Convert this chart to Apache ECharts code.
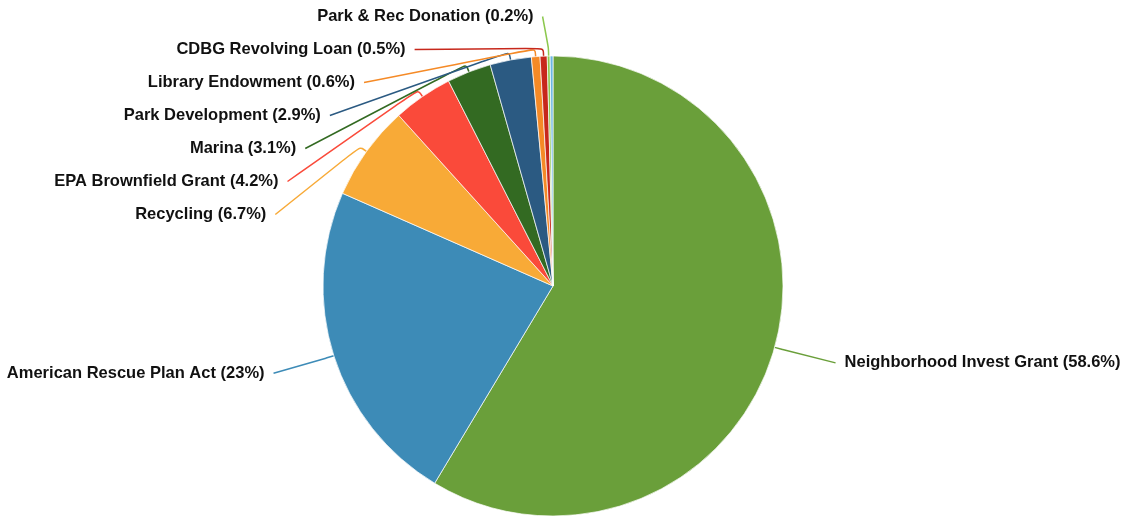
<!DOCTYPE html>
<html>
<head>
<meta charset="utf-8">
<script src="https://cdn.jsdelivr.net/npm/echarts@6/dist/echarts.min.js"></script>
<style>
  html, body { margin: 0; padding: 0; background: #fff; }
  #chart { width: 1124px; height: 516px; }
</style>
</head>
<body>
<div id="chart"></div>
<script>
// Funding sources, share of total (%)
const sources = [
  'Neighborhood Invest Grant',
  'American Rescue Plan Act',
  'Recycling',
  'EPA Brownfield Grant',
  'Marina',
  'Park Development',
  'Library Endowment',
  'CDBG Revolving Loan',
  'Park & Rec Donation',
  'Other'
];
const shares = [58.6, 23, 6.7, 4.2, 3.1, 2.9, 0.6, 0.5, 0.2, 0.2];
const colors = ['#6a9f3a', '#3d8bb7', '#f8aa37', '#fa4a3a', '#336a22', '#2b5a82', '#f58a26', '#c7281c', '#8cc84e', '#6cb6e2'];
const hiddenLabels = ['Other'];

const CENTER = [553, 286];
const RADIUS = 230;
const HOOK = 8; // short radial stub before the connector bends toward its label

const data = sources.map((name, i) => ({
  name,
  value: shares[i],
  itemStyle: { color: colors[i] },
  label: { show: hiddenLabels.indexOf(name) < 0 },
  labelLine: { show: hiddenLabels.indexOf(name) < 0 }
}));

const chart = echarts.init(document.getElementById('chart'), null, { renderer: 'canvas' });
chart.setOption({
  animation: false,
  backgroundColor: '#ffffff',
  series: [{
    type: 'pie',
    center: CENTER,
    radius: RADIUS,
    startAngle: 90,
    clockwise: true,
    avoidLabelOverlap: true,
    itemStyle: { borderColor: '#ffffff', borderWidth: 0.7 },
    label: {
      show: true,
      formatter: p => `${p.name} (${p.value}%)`,
      fontFamily: 'Liberation Sans, Arial, sans-serif',
      fontWeight: 'bold',
      fontSize: 16.5,
      lineHeight: 15,
      padding: [8, 4],
      overflow: 'none',
      color: '#111'
    },
    labelLine: {
      show: true,
      length: 58,
      length2: 5,
      smooth: 0.3,
      lineStyle: { width: 1.5 }
    },
    labelLayout: params => {
      const pts = params.labelLinePoints;
      if (!pts || pts.length < 3) return {};
      const p0 = pts[0];
      const dx = p0[0] - CENTER[0], dy = p0[1] - CENTER[1];
      const len = Math.sqrt(dx * dx + dy * dy) || 1;
      const elbow = [p0[0] + dx / len * HOOK, p0[1] + dy / len * HOOK];
      return { labelLinePoints: [p0, elbow, pts[2]] };
    },
    data
  }]
});
</script>
</body>
</html>
